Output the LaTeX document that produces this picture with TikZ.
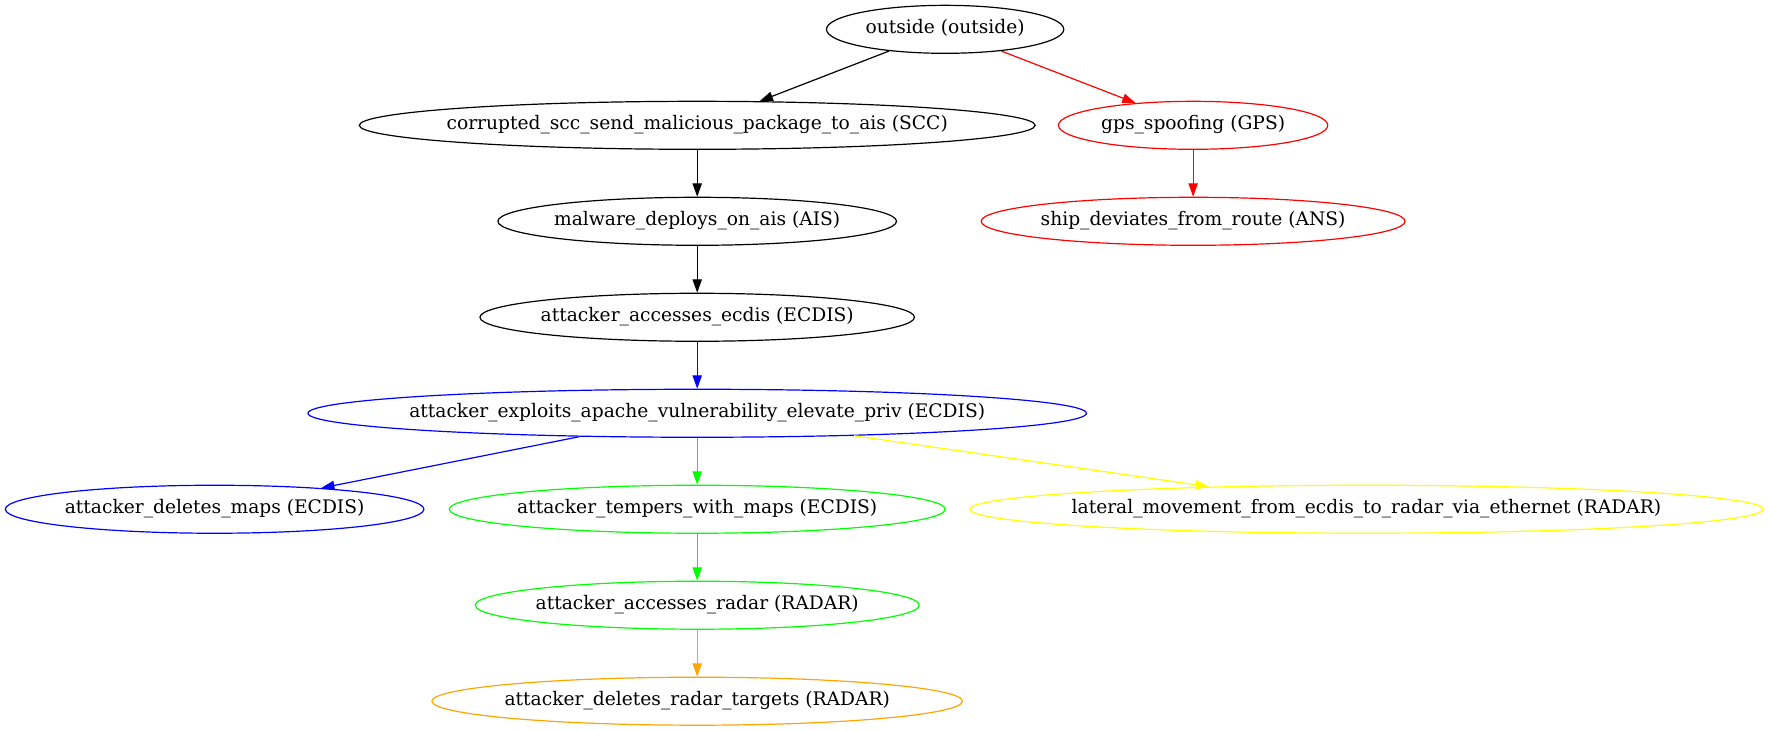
\documentclass[tikz,border=0pt]{standalone}
\usepackage{fontspec}
\setmainfont{DejaVu Serif}
\usepackage{tikz}
\usetikzlibrary{arrows.meta,shapes.geometric}
\definecolor{gvred}{RGB}{255,0,0}
\definecolor{gvblue}{RGB}{0,0,255}
\definecolor{gvgreen}{RGB}{0,255,0}
\definecolor{gvyellow}{RGB}{255,255,0}
\definecolor{gvorange}{RGB}{255,165,0}
\newcommand{\lbl}[1]{\makebox[0pt]{#1}}

\begin{document}
\begin{tikzpicture}[x=1pt,y=1pt,>={Triangle[length=10pt,width=7pt]},line width=0.9pt,
  every node/.style={font=\fontsize{14}{16.8}\selectfont}]
\tikzstyle{ev}=[ellipse,draw,inner sep=0pt,minimum height=36pt,text height=10pt,text depth=3pt]
\useasboundingbox (0,0) rectangle (1327,-548);
\node[ev,minimum width=178pt] (out) at (709,-22)  {\lbl{outside (outside)}};
\node[ev,minimum width=507pt] (scc) at (523,-94)  {\lbl{corrupted\_scc\_send\_malicious\_package\_to\_ais (SCC)}};
\node[ev,draw=gvred,minimum width=202pt] (gps) at (895,-94) {\lbl{gps\_spoofing (GPS)}};
\node[ev,minimum width=299pt] (ais) at (523,-166) {\lbl{malware\_deploys\_on\_ais (AIS)}};
\node[ev,draw=gvred,minimum width=318pt] (ans) at (895,-166) {\lbl{ship\_deviates\_from\_route (ANS)}};
\node[ev,minimum width=326pt] (ecd) at (523,-238) {\lbl{attacker\_accesses\_ecdis (ECDIS)}};
\node[ev,draw=gvblue,minimum width=584pt] (exp) at (523,-310) {\lbl{attacker\_exploits\_apache\_vulnerability\_elevate\_priv (ECDIS)}};
\node[ev,draw=gvblue,minimum width=314pt] (del) at (161,-382) {\lbl{attacker\_deletes\_maps (ECDIS)}};
\node[ev,draw=gvgreen,minimum width=372pt] (tmp) at (523,-382) {\lbl{attacker\_tempers\_with\_maps (ECDIS)}};
\node[ev,draw=gvyellow,minimum width=595pt] (lat) at (1025,-382) {\lbl{lateral\_movement\_from\_ecdis\_to\_radar\_via\_ethernet (RADAR)}};
\node[ev,draw=gvgreen,minimum width=333pt] (rad) at (523,-454) {\lbl{attacker\_accesses\_radar (RADAR)}};
\node[ev,draw=gvorange,minimum width=398pt] (tgt) at (523,-526) {\lbl{attacker\_deletes\_radar\_targets (RADAR)}};
\draw[->] (out)--(scc); \draw[->,gvred] (out)--(gps);
\draw[->] (scc)--(ais); \draw[->,gvred] (gps)--(ans);
\draw[->] (ais)--(ecd);
\draw[->,gvblue] (ecd)--(exp);
\draw[->,gvblue] (exp)--(del);
\draw[->,gvgreen] (exp)--(tmp);
\draw[->,gvyellow] (exp)--(lat);
\draw[->,gvgreen] (tmp)--(rad);
\draw[->,gvorange] (rad)--(tgt);
\end{tikzpicture}
\end{document}
